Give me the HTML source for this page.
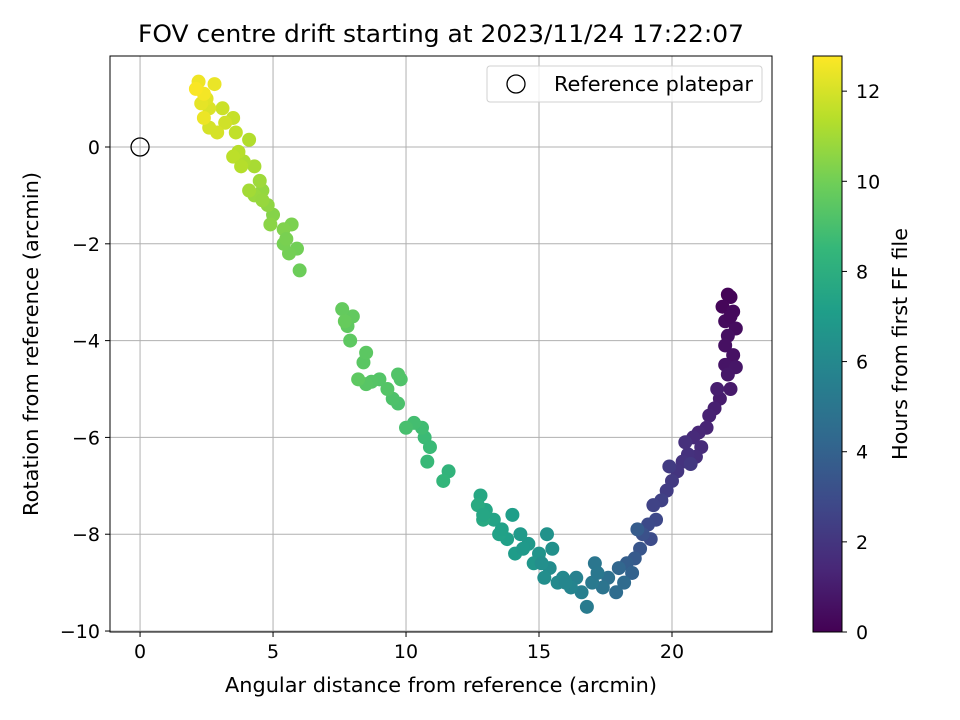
<!DOCTYPE html>
<html><head><meta charset="utf-8"><style>
body{margin:0;background:#fff;}
svg{display:block;font-family:"DejaVu Sans","Liberation Sans",sans-serif;}
</style></head><body>
<svg id="chart" width="960" height="720" viewBox="0 0 960 720">
<rect width="960" height="720" fill="#fff"/>
<text x="441" y="42" font-size="24" text-anchor="middle" textLength="606" lengthAdjust="spacingAndGlyphs">FOV centre drift starting at 2023/11/24 17:22:07</text>
<g id="grid"></g>
<g id="points"></g>
<rect x="110" y="56" width="662" height="576" fill="none" stroke="#000" stroke-width="1"/>
<g id="xticks"></g><g id="yticks"></g>
<text x="441" y="692" font-size="20" text-anchor="middle" textLength="432" lengthAdjust="spacingAndGlyphs">Angular distance from reference (arcmin)</text>
<text transform="translate(38,344) rotate(-90)" font-size="20" text-anchor="middle" textLength="344" lengthAdjust="spacingAndGlyphs">Rotation from reference (arcmin)</text>
<g>
<rect x="487" y="66" width="275" height="36" rx="3" fill="#fff" fill-opacity="0.8" stroke="#d0d0d0"/>
<circle cx="516" cy="84" r="9" fill="none" stroke="#000" stroke-width="1.3"/>
<text x="554" y="91" font-size="20" textLength="199" lengthAdjust="spacingAndGlyphs">Reference platepar</text>
</g>
<defs><linearGradient id="vir" x1="0" y1="1" x2="0" y2="0"></linearGradient></defs>
<rect id="cbar" x="813" y="56" width="29" height="576" fill="url(#vir)" stroke="#000" stroke-width="1"/>
<g id="cticks"></g>
<text transform="translate(907,344) rotate(-90)" font-size="20" text-anchor="middle" textLength="232" lengthAdjust="spacingAndGlyphs">Hours from first FF file</text>
</svg>
<script>
const xTicks=[0,5,10,15,20];
const yTicks=[0,-2,-4,-6,-8,-10];
const cTicks=[0,2,4,6,8,10,12];
const xs=[22.1,22.2,21.9,22.3,22.0,22.4,22.1,22.3,22.0,22.4,22.1,22.2,21.8,21.6,21.4,21.3,21.0,20.8,21.1,20.9,20.6,20.4,20.2,20.7,20.0,19.8,19.6,19.3,19.4,19.1,19.2,18.9,18.8,18.6,18.3,18.5,18.0,18.2,17.9,17.6,17.4,17.1,17.0,16.8,16.6,16.4,16.2,15.9,15.7,15.4,15.2,15.5,15.3,15.0,14.8,14.6,14.3,14.1,14.0,13.8,13.5,13.3,13.0,12.8,12.9,12.7,11.6,11.4,10.8,10.7,10.6,10.3,10.0,9.7,9.5,9.8,9.7,9.0,8.7,8.5,8.4,8.5,7.9,7.8,8.0,7.6,7.7,6.0,5.9,5.6,5.4,5.7,5.4,5.0,4.9,4.8,4.6,4.3,4.5,4.1,4.3,3.9,4.1,3.7,3.5,3.6,3.5,3.1,3.2,2.6,2.6,2.5,2.3,2.8,2.2,2.4,2.1,22.2,22.0,21.7,20.5,19.9,18.7,17.2,16.0,15.1,14.4,13.6,12.9,10.9,9.3,8.2,5.5,4.6,3.8,2.9,2.4];
const ys=[-3.05,-3.1,-3.3,-3.4,-3.6,-3.75,-3.9,-4.3,-4.5,-4.55,-4.7,-5.0,-5.2,-5.4,-5.55,-5.8,-5.9,-6.0,-6.2,-6.4,-6.35,-6.5,-6.7,-6.55,-6.9,-7.1,-7.3,-7.4,-7.7,-7.8,-8.1,-8.0,-8.3,-8.5,-8.6,-8.8,-8.7,-9.0,-9.2,-8.9,-9.1,-8.6,-9.0,-9.5,-9.2,-8.9,-9.1,-8.9,-9.0,-8.7,-8.9,-8.3,-8.0,-8.4,-8.6,-8.2,-8.0,-8.4,-7.6,-8.1,-8.0,-7.7,-7.5,-7.2,-7.7,-7.4,-6.7,-6.9,-6.5,-6.0,-5.8,-5.7,-5.8,-5.3,-5.2,-4.8,-4.7,-4.8,-4.85,-4.9,-4.45,-4.25,-4.0,-3.7,-3.5,-3.35,-3.6,-2.55,-2.1,-2.2,-2.0,-1.6,-1.7,-1.4,-1.6,-1.2,-0.9,-1.0,-0.7,-0.9,-0.4,-0.3,0.15,-0.1,-0.2,0.3,0.6,0.8,0.5,0.4,0.8,1.0,0.9,1.3,1.35,1.1,1.2,-3.5,-4.1,-5.0,-6.1,-6.6,-7.9,-8.8,-9.0,-8.6,-8.3,-7.9,-7.6,-6.2,-5.0,-4.8,-1.9,-1.1,-0.4,0.3,0.6];
const hours=[0.1,0.15,0.2,0.3,0.35,0.4,0.5,0.6,0.7,0.75,0.8,0.9,1.0,1.1,1.2,1.3,1.4,1.5,1.6,1.7,1.8,1.9,2.0,2.1,2.2,2.3,2.5,2.6,2.8,2.9,3.0,3.2,3.4,3.6,3.8,4.0,4.2,4.4,4.5,4.7,4.9,5.0,5.2,5.3,5.5,5.6,5.8,6.0,6.1,6.2,6.3,6.4,6.5,6.6,6.7,6.8,6.9,7.0,7.1,7.2,7.3,7.4,7.5,7.6,7.7,7.8,8.3,8.4,8.6,8.7,8.8,8.9,9.0,9.1,9.15,9.2,9.25,9.3,9.35,9.4,9.45,9.5,9.55,9.6,9.65,9.7,9.75,9.9,10.0,10.05,10.1,10.2,10.3,10.4,10.5,10.6,10.7,10.8,10.9,11.0,11.1,11.2,11.3,11.4,11.5,11.6,11.7,11.8,11.9,12.0,12.1,12.2,12.3,12.4,12.5,12.6,12.7,0.3,0.55,1.05,1.75,2.25,3.7,5.1,5.9,6.35,6.85,7.25,7.55,8.65,9.3,9.55,10.15,10.75,11.35,12.0,12.45];
const NS='http://www.w3.org/2000/svg';
const X0=-1.13,X1=23.76,Y0=-10.02,Y1=1.88,C0=0,C1=12.78;
const L=110,R=772,T=56,B=632;
const sx=v=>L+(v-X0)/(X1-X0)*(R-L);
const sy=v=>B-(v-Y0)/(Y1-Y0)*(B-T);
const sc=v=>B-(v-C0)/(C1-C0)*(B-T);
const vir=[[68,1,84],[72,40,120],[62,73,137],[49,104,142],[38,130,142],[31,158,137],[53,183,121],[110,206,88],[181,222,43],[253,231,37]];
function col(t){t=Math.max(0,Math.min(1,t));const f=t*9,i=Math.min(8,Math.floor(f)),r=f-i;const a=vir[i],b=vir[i+1];return 'rgb('+a.map((c,k)=>Math.round(c+(b[k]-c)*r)).join(',')+')';}
function mk(tag,at,parent){const e=document.createElementNS(NS,tag);for(const k in at)e.setAttribute(k,at[k]);parent.appendChild(e);return e;}
const grid=document.getElementById('grid'),xt=document.getElementById('xticks'),yt=document.getElementById('yticks'),pts=document.getElementById('points'),ct=document.getElementById('cticks');
xTicks.forEach(v=>{const x=sx(v);
const g=mk('line',{x1:x,x2:x,y1:T,y2:B,stroke:'#b0b0b0','stroke-width':1},grid);


const t=mk('line',{x1:x,x2:x,y1:B,y2:B+5,stroke:'#000'},xt);


const l=mk('text',{x:x,y:B+26,'font-size':19,'text-anchor':'middle'},xt);l.textContent=String(v);

});
yTicks.forEach(v=>{const y=sy(v);
const g=mk('line',{x1:L,x2:R,y1:y,y2:y,stroke:'#b0b0b0','stroke-width':1},grid);


const t=mk('line',{x1:L-5,x2:L,y1:y,y2:y,stroke:'#000'},yt);


const l=mk('text',{x:L-10,y:y+7,'font-size':19,'text-anchor':'end'},yt);l.textContent=(v<0?'\u2212':'')+Math.abs(v);

});
const ref=mk('circle',{cx:sx(0),cy:sy(0),r:9,fill:'none',stroke:'#000','stroke-width':1.3},pts);


xs.forEach((v,i)=>{const c=mk('circle',{cx:sx(v),cy:sy(ys[i]),r:7,fill:col(hours[i]/C1)},pts);

});
const gr=document.getElementById('vir');
vir.forEach((c,i)=>mk('stop',{offset:(i/9),'stop-color':'rgb('+c.join(',')+')'},gr));
cTicks.forEach(v=>{const y=sc(v);
const t=mk('line',{x1:842,x2:847,y1:y,y2:y,stroke:'#000'},ct);


const l=mk('text',{x:856,y:y+7,'font-size':19},ct);l.textContent=String(v);

});
</script>
</body></html>
